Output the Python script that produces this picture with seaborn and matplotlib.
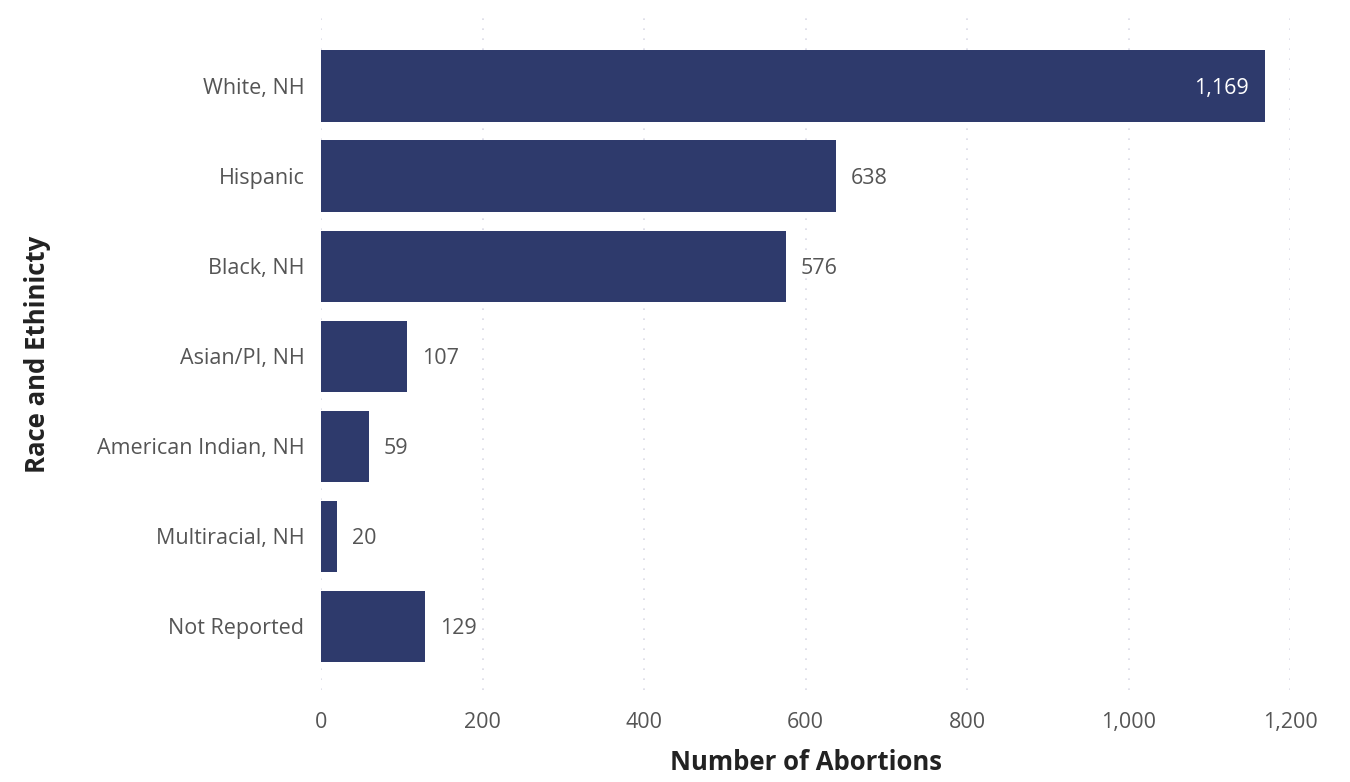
import matplotlib
matplotlib.use("Agg")
import matplotlib.pyplot as plt
import seaborn as sns
import pandas as pd

categories = ["White, NH", "Hispanic", "Black, NH", "Asian/PI, NH",
              "American Indian, NH", "Multiracial, NH", "Not Reported"]
values = [1169, 638, 576, 107, 59, 20, 129]
xticks = [0, 200, 400, 600, 800, 1000, 1200]
xtick_labels = ["0", "200", "400", "600", "800", "1,000", "1,200"]

sns.set_theme(style="white")
plt.rcParams['font.family'] = ['Open Sans', 'DejaVu Sans']

df = pd.DataFrame({"cat": categories, "val": values})
fig = plt.figure(figsize=(13.5, 7.82), dpi=100)
ax = fig.add_axes([0.2378, 0.1176, 0.9556 - 0.2378, 0.977 - 0.1176])

sns.barplot(data=df, x="val", y="cat", orient="h", color="#2E3A6C",
            saturation=1, width=0.79, linewidth=0, ax=ax)

ax.set_xlim(0, 1200)
ax.set_ylim(6.71, -0.756)
ax.set_xticks(xticks)
ax.set_xticklabels(xtick_labels)
ax.xaxis.grid(True, linestyle=(0, (1, 5)), color="#DADAE6", linewidth=1.2)
ax.set_axisbelow(True)
for s in ax.spines.values():
    s.set_visible(False)
ax.tick_params(axis="both", length=0, labelsize=15.5, labelcolor="#555555")
ax.tick_params(axis="y", pad=12)
ax.tick_params(axis="x", pad=16)
ax.set_xlabel("Number of Abortions", fontsize=18.5, fontweight="bold",
              color="#222222", labelpad=11)
ax.set_ylabel("Race and Ethinicty", fontsize=18.5, fontweight="bold",
              color="#222222", labelpad=33)

for i, v in enumerate(values):
    lab = f"{v:,}"
    if v > 1000:
        ax.text(v - 20, i + 0.03, lab, va="center", ha="right", color="white", fontsize=15.5)
    else:
        ax.text(v + 18, i + 0.03, lab, va="center", ha="left", color="#555555", fontsize=15.5)

fig.savefig("out.png", dpi=100, facecolor="white")
